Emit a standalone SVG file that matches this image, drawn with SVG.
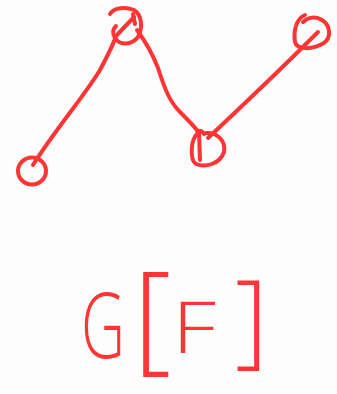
<svg xmlns="http://www.w3.org/2000/svg" width="337" height="394" viewBox="0 0 337 394">
<style>
.ink{fill:none;stroke:#ff3535;stroke-width:4;stroke-linecap:round;stroke-linejoin:round}
.lbl{fill:#ff3535;font-family:"Open Sans","Liberation Sans",sans-serif;font-weight:300}
</style>
<rect width="337" height="394" fill="#fdfdfd"/>
<g id="connectors" class="ink">
<path d="M33,165 C55,130 85,95 100,70 C108,55 113,45 116,36 L134,17"/>
<path d="M137,30 C148,45 153,55 158,68 C165,90 170,102 180,112 C190,122 196,128 199,133 L200,160"/>
<path d="M208,138 C240,108 285,65 318,32"/>
</g>
<g id="node-a" class="ink"><ellipse cx="32" cy="171" rx="14" ry="13.5"/></g>
<g id="node-b" class="ink"><path d="M110,14 C114,7 126,7 134,10 C142,15 143,28 138,37 C132,45 120,46 115,38 C112,33 113,29 116,26"/><path d="M133,14 L135,24"/></g>
<g id="node-c" class="ink"><path d="M204,134 C200,128 196,132 198,133 C190,140 190,160 196,164 C205,168 220,164 224,152 C226,140 216,132 206,133"/></g>
<g id="node-d" class="ink"><path d="M305,15 C297,18 293,30 295,42 C297,50 312,50 324,43 C332,37 330,25 322,20 C316,16 308,17 303,22"/></g>
<text class="lbl"><tspan x="81" y="358" font-size="90" textLength="44" lengthAdjust="spacingAndGlyphs">G</tspan><tspan x="133" y="358" font-size="120">[</tspan><tspan x="172" y="353" font-size="71" textLength="44" lengthAdjust="spacingAndGlyphs">F</tspan><tspan x="235" y="355" font-size="103">]</tspan></text>
</svg>
